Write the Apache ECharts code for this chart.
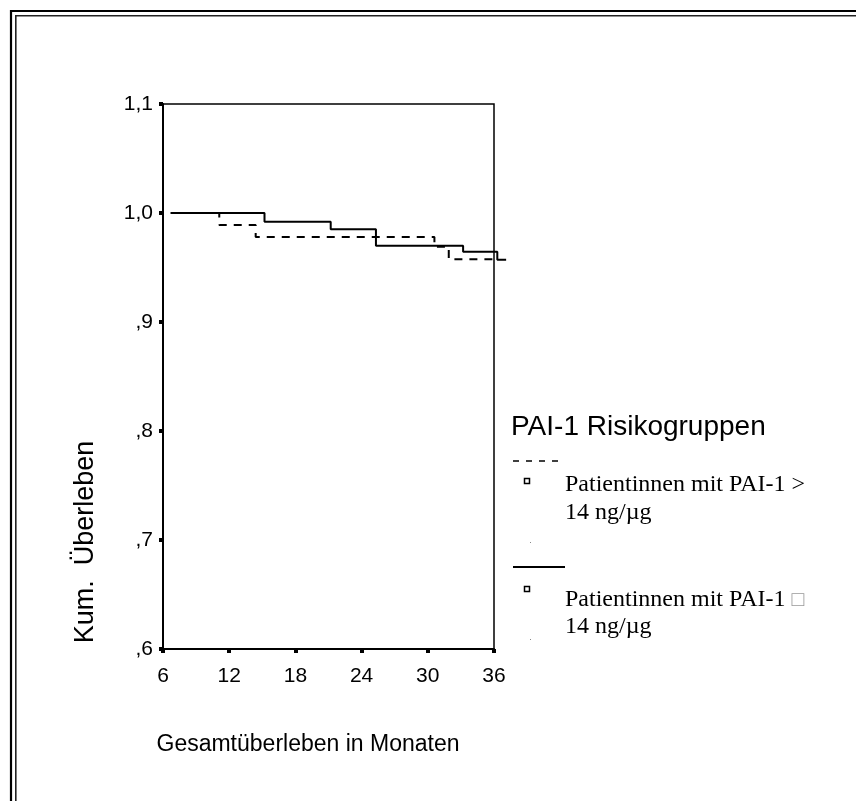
<!DOCTYPE html>
<html>
<head>
<meta charset="utf-8">
<script src="https://cdn.jsdelivr.net/npm/echarts@6/dist/echarts.min.js"></script>
<style>
  html, body { margin: 0; padding: 0; background: #fff; }
  #chart { width: 856px; height: 801px; }
</style>
</head>
<body>
<div id="chart"></div>
<script>
// Kaplan-Meier steps: [month, cumulative survival]
const highPaiTimes = [6.7, 11.1, 14.4, 30.6, 31.9, 36.0];
const highPaiSurvival = [1.0, 0.989, 0.978, 0.969, 0.9575, 0.9575];
const lowPaiTimes = [6.7, 15.2, 21.2, 25.3, 33.2, 36.3, 37.1];
const lowPaiSurvival = [1.0, 0.992, 0.985, 0.970, 0.9645, 0.957, 0.957];

const xTicks = [6, 12, 18, 24, 30, 36];
const yTickLabels = { '1.1': '1,1', '1': '1,0', '0.9': ',9', '0.8': ',8', '0.7': ',7', '0.6': ',6' };

const legendTitle = 'PAI-1 Risikogruppen';
const groupHigh = ['Patientinnen mit PAI-1 >', '14 ng/\u00b5g'];
const groupLow = ['Patientinnen mit PAI-1 ', '14 ng/\u00b5g'];
const xTitle = 'Gesamt\u00fcberleben in Monaten';
const yTitle = 'Kum.  \u00dcberleben';

const sans = "'Liberation Sans', Arial, sans-serif";
const serif = "'Liberation Serif', 'Times New Roman', serif";

// The framed plot spans 6..36 months; the curves may run a little past the last tick,
// so they live on an overlaid grid with the same scale but a wider x range.
const X_MIN = 6, X_MAX = 36, X_OVER = 37.4;
const PLOT_LEFT = 163, PLOT_WIDTH = 331, PLOT_TOP = 104, PLOT_BOTTOM = 152;
const overWidth = PLOT_WIDTH * (X_OVER - X_MIN) / (X_MAX - X_MIN);

function pairs(xs, ys) { return xs.map((x, i) => [x, ys[i]]); }

const chart = echarts.init(document.getElementById('chart'), null, { renderer: 'canvas' });

const hiddenAxis = { show: false, axisLine: { show: false }, axisTick: { show: false }, axisLabel: { show: false }, splitLine: { show: false } };

chart.setOption({
  animation: false,
  backgroundColor: '#fff',
  grid: [
    { left: PLOT_LEFT, width: PLOT_WIDTH, top: PLOT_TOP, bottom: PLOT_BOTTOM, show: true, borderColor: '#000', borderWidth: 1.5, backgroundColor: 'transparent' },
    { left: PLOT_LEFT, width: overWidth, top: PLOT_TOP, bottom: PLOT_BOTTOM, show: false }
  ],
  xAxis: [
    {
      gridIndex: 0, type: 'value', min: X_MIN, max: X_MAX, interval: 6,
      axisLine: { show: true, onZero: false, lineStyle: { color: '#000', width: 2 } },
      axisTick: { show: true, inside: false, length: 4, lineStyle: { color: '#000', width: 4 } },
      axisLabel: { color: '#000', fontFamily: sans, fontSize: 21, margin: 17,
        formatter: v => xTicks.includes(v) ? String(v) : '' },
      splitLine: { show: false }
    },
    Object.assign({ gridIndex: 1, type: 'value', min: X_MIN, max: X_OVER }, hiddenAxis)
  ],
  yAxis: [
    {
      gridIndex: 0, type: 'value', min: 0.6, max: 1.1, interval: 0.1,
      axisLine: { show: true, onZero: false, lineStyle: { color: '#000', width: 2 } },
      axisTick: { show: true, inside: false, length: 4, lineStyle: { color: '#000', width: 4 } },
      axisLabel: { color: '#000', fontFamily: sans, fontSize: 21, margin: 10,
        formatter: v => yTickLabels[String(Math.round(v * 10) / 10)] || '' },
      splitLine: { show: false }
    },
    Object.assign({ gridIndex: 1, type: 'value', min: 0.6, max: 1.1 }, hiddenAxis)
  ],
  series: [
    {
      name: groupHigh.join(' '), type: 'line', step: 'end', clip: false,
      xAxisIndex: 1, yAxisIndex: 1,
      data: pairs(highPaiTimes, highPaiSurvival),
      symbol: 'none', lineStyle: { color: '#000', width: 2, type: [8, 7] }
    },
    {
      name: groupLow.join(' '), type: 'line', step: 'end', clip: false,
      xAxisIndex: 1, yAxisIndex: 1,
      data: pairs(lowPaiTimes, lowPaiSurvival),
      symbol: 'none', lineStyle: { color: '#000', width: 2, type: 'solid' }
    }
  ],
  graphic: [
    // double frame
    { type: 'polyline', shape: { points: [[11, 801], [11, 11], [856, 11]] }, style: { stroke: '#000', lineWidth: 2.2, fill: null } },
    { type: 'polyline', shape: { points: [[15.8, 801], [15.8, 15.8], [856, 15.8]] }, style: { stroke: '#222', lineWidth: 1.6, fill: null } },
    // axis titles
    { type: 'text', x: 86, y: 542, rotation: Math.PI / 2,
      style: { text: yTitle, font: '27px ' + sans, fill: '#000', align: 'center', verticalAlign: 'middle' } },
    { type: 'text', x: 308, y: 745,
      style: { text: xTitle, font: '23px ' + sans, fill: '#000', align: 'center', verticalAlign: 'middle' } },
    // legend
    { type: 'text', x: 511, y: 427,
      style: { text: legendTitle, font: '28px ' + sans, fill: '#000', align: 'left', verticalAlign: 'middle' } },
    { type: 'line', shape: { x1: 513, y1: 461, x2: 565, y2: 461 }, style: { stroke: '#000', lineWidth: 1.6, lineDash: [6, 7] } },
    { type: 'rect', shape: { x: 524.5, y: 478.5, width: 5, height: 5 }, style: { stroke: '#000', lineWidth: 1.5, fill: '#fff' } },
    { type: 'text', x: 565, y: 485, style: { text: groupHigh[0], font: '24px ' + serif, fill: '#000', verticalAlign: 'middle' } },
    { type: 'text', x: 565, y: 513, style: { text: groupHigh[1], font: '24px ' + serif, fill: '#000', verticalAlign: 'middle' } },
    { type: 'rect', shape: { x: 530, y: 542, width: 1, height: 1 }, style: { fill: '#888' } },
    { type: 'line', shape: { x1: 513, y1: 567, x2: 565, y2: 567 }, style: { stroke: '#000', lineWidth: 2 } },
    { type: 'rect', shape: { x: 524.5, y: 586.5, width: 5, height: 5 }, style: { stroke: '#000', lineWidth: 1.5, fill: '#fff' } },
    { type: 'text', x: 565, y: 600,
      style: { text: '{a|' + groupLow[0] + '}{b|\u25a1}', verticalAlign: 'middle',
        rich: { a: { font: '24px ' + serif, fill: '#000' }, b: { font: '21px ' + sans, fill: '#999' } } } },
    { type: 'text', x: 565, y: 627, style: { text: groupLow[1], font: '24px ' + serif, fill: '#000', verticalAlign: 'middle' } },
    { type: 'rect', shape: { x: 530, y: 639, width: 1, height: 1 }, style: { fill: '#888' } }
  ]
});
</script>
</body>
</html>
